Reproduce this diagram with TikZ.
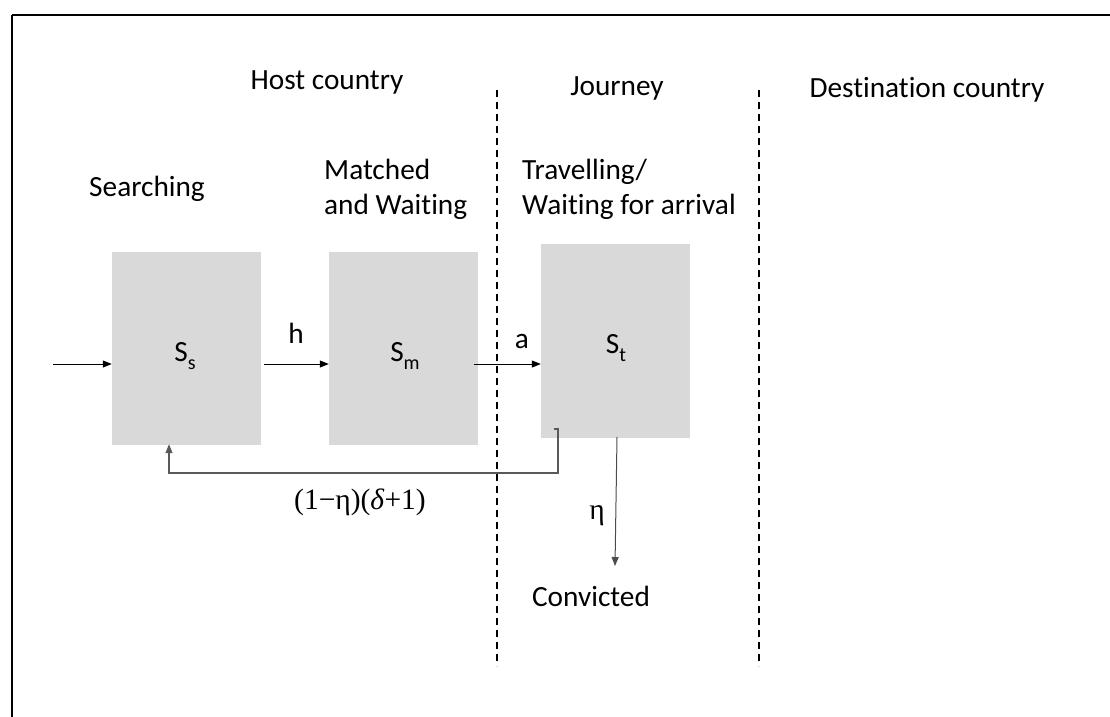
\documentclass[tikz,border=0pt]{standalone}
\usepackage{fontspec}
\setmainfont{Carlito}[Ligatures=NoCommon]
\newfontfamily\serifmath{Liberation Serif}
\usetikzlibrary{arrows.meta}
\newcommand{\mysub}[1]{\raisebox{-0.3em}{\fontsize{20}{20}\selectfont #1}}
\begin{document}
\begin{tikzpicture}[x=1pt,y=-1pt,
  txt/.style={font=\fontsize{29.3}{35}\selectfont, inner sep=0pt, align=left},
  stock/.style={draw=black!15, fill=black!15, minimum width=148pt, minimum height=192pt, inner sep=0pt},
  flow/.style={draw=black, line width=1pt, -{Triangle[length=9pt,width=7pt]}},
  divider/.style={draw=black, line width=1.2pt, dash pattern=on 7pt off 5pt}]
\useasboundingbox (0,0) rectangle (1110,716);
\draw[line width=1.8pt] (12,15) -- (12,730) (12,15) -- (1120,15);
% boxes
\node[stock] (Ss) at (186,348) {};
\node[stock] (Sm) at (403,348) {};
\node[stock, minimum height=193pt] (St) at (615,340.5) {};
% box labels
\node[txt] (lSs) at (185,356) {S\mysub{s}};
\node[txt] (lSm) at (405,356) {S\mysub{m}};
\node[txt] (lSt) at (616,348) {S\mysub{t}};
% headings
\node[txt] (host) at (327,82) {Host country};
\node[txt] (jour) at (617,88) {Journey};
\node[txt] (dest) at (927,90) {Destination country};
\node[txt] (srch) at (147,189) {Searching};
\node[txt, anchor=west] (mw) at (324,189) {Matched\\and Waiting};
\node[txt, anchor=west] (tw) at (522,189) {Travelling/\\Waiting for arrival};
% dividers
\coordinate (d1t) at (497,90); \coordinate (d1b) at (497,666);
\coordinate (d2t) at (759,90); \coordinate (d2b) at (759,666);
\draw[divider] (d1t) -- (d1b);
\draw[divider] (d2t) -- (d2b);
% flows
\coordinate (in0) at (53,364);
\draw[flow] (in0) -- (Ss.west |- in0);
\coordinate (h0) at (264,364);
\draw[flow] (h0) -- (Sm.west |- h0);
\node[txt] (lh) at (296,333) {h};
\coordinate (a0) at (474,364);
\draw[flow] (a0) -- (St.west |- a0);
\node[txt] (la) at (522,341) {a};
% feedback
\coordinate (fb0) at (554,429);
\coordinate (fb1) at (558,429);
\coordinate (fb2) at (558,473);
\coordinate (fb3) at (169,473);
\draw[flow, draw=black!65, line width=1.1pt] (fb0) -- (fb1) -- (fb2) -- (fb3) -- (fb3 |- Ss.south);
\node[txt, font=\serifmath\fontsize{29.5}{35}\selectfont] (lfb) at (360,502) {(1−η)(\textit{δ}+1)};
% convicted
\coordinate (c0) at (617,437);
\coordinate (c1) at (615,566);
\draw[flow, draw=black!70] (c0) -- (c1);
\node[txt, font=\serifmath\fontsize{29.5}{35}\selectfont] (leta) at (597,516) {η};
\node[txt] (conv) at (591,596) {Convicted};
\end{tikzpicture}
\end{document}
